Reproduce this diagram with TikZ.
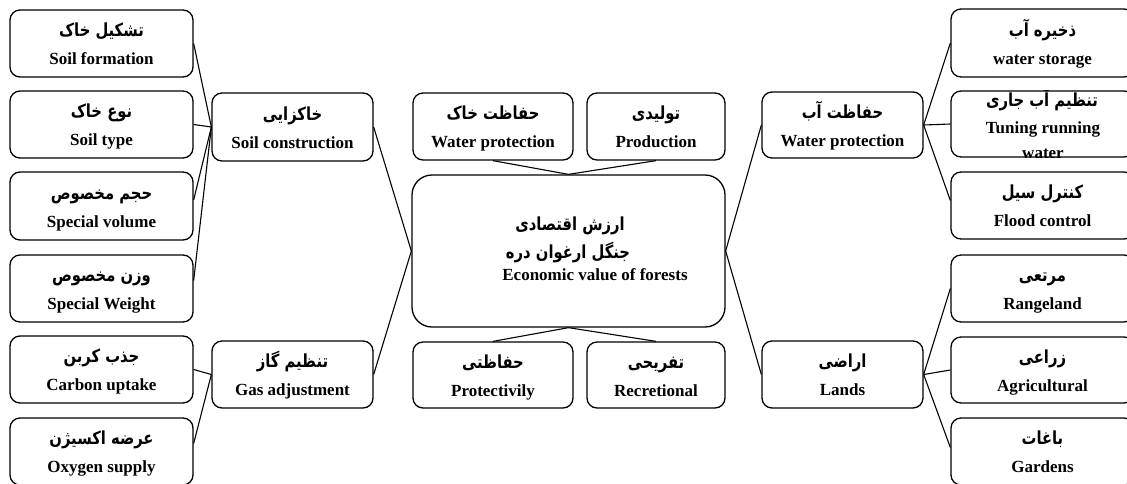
\documentclass[tikz,border=0pt]{standalone}
\usepackage{fontspec}
\setmainfont{Liberation Serif}
\newfontfamily\fa[Script=Arabic, FakeStretch=0.82]{DejaVu Sans}
\TeXXeTstate=1
\tikzset{
 box/.style={draw, line width=1.3pt, rounded corners=10pt, minimum width=183pt, minimum height=67pt, inner sep=0pt},
 ar/.style={font=\fa\bfseries\fontsize{18}{18}\selectfont, inner sep=0pt, anchor=base},
 en/.style={font=\bfseries\fontsize{17}{17}\selectfont, inner sep=0pt, anchor=base},
 link/.style={line width=1.1pt},
}
\newcommand\twolines[3]{%
 \node[ar] (#1a) at ([yshift=7pt]#1.center) {#2};
 \node[en] (#1e) at ([yshift=-21pt]#1.center) {#3};}
\begin{document}
\begin{tikzpicture}[x=1pt,y=-1pt]
\useasboundingbox (0,0) rectangle (1127,483);
\clip (0,0) rectangle (1127,483);
% left column
\node[box] (lf1) at (101.5,43.5) {};
\node[box] (lf2) at (101.5,124.5) {};
\node[box, minimum height=68pt] (lf3) at (101.5,206) {};
\node[box] (lf4) at (101.5,288.5) {};
\node[box] (lf5) at (101.5,369.5) {};
\node[box] (lf6) at (101.5,451.5) {};
% left middle
\node[box, minimum width=161pt, minimum height=68pt] (sc) at (292.5,127) {};
\node[box, minimum width=161pt] (ga) at (292.5,374.5) {};
% centre
\node[box, minimum width=160pt] (wp1) at (493,126.5) {};
\node[box, minimum width=138pt] (pr) at (656,126.5) {};
\node[box, minimum width=313pt, minimum height=152pt, rounded corners=20pt] (c) at (568.5,251) {};
\node[box, minimum width=160pt, minimum height=66pt] (pt) at (493,375) {};
\node[box, minimum width=138pt, minimum height=66pt] (rc) at (656,375) {};
% right middle
\node[box, minimum width=161pt, minimum height=66pt] (wp2) at (842.5,125) {};
\node[box, minimum width=161pt] (ld) at (842.5,374.5) {};
% right column
\node[box, minimum height=68pt] (r1) at (1042.5,43) {};
\node[box, minimum height=66pt] (r2) at (1042.5,124) {};
\node[box] (r3) at (1042.5,205.5) {};
\node[box] (r4) at (1042.5,288.5) {};
\node[box, minimum height=66pt] (r5) at (1042.5,370) {};
\node[box] (r6) at (1042.5,451.5) {};
% connectors
\draw[link] (lf1.east) -- (sc.west);
\draw[link] (lf2.east) -- (sc.west);
\draw[link] ([yshift=6pt]lf3.east) -- (sc.west);
\draw[link] ([yshift=8pt]lf4.east) -- (sc.west);
\draw[link] (lf5.east) -- (ga.west);
\draw[link] ([yshift=8pt]lf6.east) -- (ga.west);
\draw[link] (sc.east) -- (c.west);
\draw[link] (ga.east) -- (c.west);
\draw[link] (wp1.south) -- (c.north);
\draw[link] (pr.south) -- (c.north);
\draw[link] (pt.north) -- (c.south);
\draw[link] (rc.north) -- (c.south);
\draw[link] (c.east) -- (wp2.west);
\draw[link] (c.east) -- (ld.west);
\draw[link] (wp2.east) -- (r1.west);
\draw[link] (wp2.east) -- (r2.west);
\draw[link] (wp2.east) -- ([yshift=5pt]r3.west);
\draw[link] (ld.east) -- (r4.west);
\draw[link] (ld.east) -- (r5.west);
\draw[link] (ld.east) -- ([yshift=4pt]r6.west);
% texts
\twolines{lf1}{\beginR تشکیل خاک\endR}{Soil formation}
\twolines{lf2}{\beginR نوع خاک\endR}{Soil type}
\twolines{lf3}{\beginR حجم مخصوص\endR}{Special volume}
\twolines{lf4}{\beginR وزن مخصوص\endR}{Special Weight}
\twolines{lf5}{\beginR جذب کربن\endR}{Carbon uptake}
\twolines{lf6}{\beginR عرضه اکسیژن\endR}{Oxygen supply}
\twolines{sc}{\beginR خاکزایی\endR}{Soil construction}
\twolines{ga}{\beginR تنظیم گاز\endR}{Gas adjustment}
\twolines{wp1}{\beginR حفاظت خاک\endR}{Water protection}
\twolines{pr}{\beginR تولیدی\endR}{Production}
\twolines{pt}{\beginR حفاظتی\endR}{Protectivily}
\twolines{rc}{\beginR تفریحی\endR}{Recretional}
\twolines{wp2}{\beginR حفاظت آب\endR}{Water protection}
\twolines{ld}{\beginR اراضی\endR}{Lands}
\twolines{r1}{\beginR ذخیره آب\endR}{water storage}
\twolines{r3}{\beginR کنترل سیل\endR}{Flood control}
\twolines{r4}{\beginR مرتعی\endR}{Rangeland}
\twolines{r5}{\beginR زراعی\endR}{Agricultural}
\twolines{r6}{\beginR باغات\endR}{Gardens}
% centre texts
\node[ar] (ca1) at (570,230) {\beginR ارزش اقتصادی\endR};
\node[ar] (ca2) at (568,258) {\beginR جنگل ارغوان دره\endR};
\node[en] (ce) at (595,280) {Economic value of forests};
% tuning box (text clipped by its box)
\begin{scope}
\clip (r2.south west) rectangle (r2.north east);
\node[ar] (r2a) at (1042,106) {\beginR تنظیم آب جاری\endR};
\node[en] (r2e1) at (1043,133) {Tuning running};
\node[en] (r2e2) at (1043,158) {water};
\end{scope}
\end{tikzpicture}
\end{document}
